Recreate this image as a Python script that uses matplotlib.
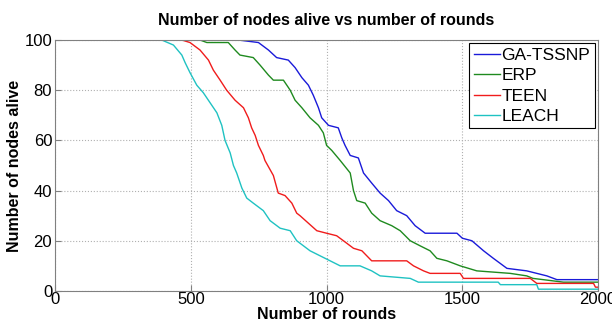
import matplotlib.pyplot as plt

plt.rcParams['font.family'] = ['Liberation Sans', 'DejaVu Sans']

# points (round, nodes alive)
ga_rounds = [0, 675, 749, 786, 816, 859, 884, 909, 933, 951, 970, 982, 1007, 1043, 1056,
             1068, 1087, 1117, 1136, 1166, 1197, 1228, 1258, 1295, 1326, 1363, 1480, 1500,
             1535, 1578, 1614, 1664, 1737, 1811, 1848, 2000]
ga_nodes = [100, 100, 99, 96, 93, 92, 89, 85, 82, 78, 73, 69, 66, 65, 61,
            58, 54, 53, 47, 43, 39, 36, 32, 30, 26, 23, 23, 21,
            20, 16, 13, 9, 8, 6, 4.5, 4.5]

erp_rounds = [0, 534, 559, 638, 663, 681, 730, 755, 786, 804, 841, 866, 884, 909, 939,
              970, 988, 1000, 1019, 1050, 1087, 1099, 1111, 1142, 1166, 1197, 1240, 1271,
              1308, 1344, 1381, 1406, 1443, 1492, 1553, 1676, 1737, 1760, 1872, 2000]
erp_nodes = [100, 100, 99, 99, 96, 94, 93, 90, 86, 84, 84, 80, 76, 73, 69,
             66, 63, 58, 56, 52, 47, 40, 36, 35, 31, 28, 26, 24,
             20, 18, 16, 13, 12, 10, 8, 7, 6, 5, 3.5, 3.5]

teen_rounds = [0, 467, 497, 534, 565, 583, 608, 632, 663, 694, 712, 724, 737, 749, 767,
               773, 804, 822, 847, 872, 890, 902, 933, 964, 1000, 1037, 1062, 1099, 1130,
               1166, 1295, 1320, 1357, 1381, 1492, 1504, 1750, 1774, 1983, 1990, 2000]
teen_nodes = [100, 100, 99, 96, 92, 88, 84, 80, 76, 73, 69, 65, 62, 58, 54,
              52, 46, 39, 38, 35, 31, 30, 27, 24, 23, 22, 20, 17, 16,
              12, 12, 10, 8, 7, 7, 5, 5, 3, 3, 1.5, 1.5]

leach_rounds = [0, 393, 436, 467, 479, 497, 522, 546, 571, 596, 614, 626, 645, 657, 669,
                688, 706, 730, 767, 792, 829, 866, 890, 939, 976, 1013, 1050, 1123, 1166,
                1197, 1308, 1338, 1632, 1640, 1774, 1780, 2000]
leach_nodes = [100, 100, 98, 94, 91, 87, 82, 79, 75, 71, 66, 60, 55, 50, 47,
               41, 37, 35, 32, 28, 25, 24, 20, 16, 14, 12, 10, 10, 8,
               6, 5, 3.5, 3.5, 2.5, 2.5, 0.7, 0.7]

fig = plt.figure(figsize=(6.12, 3.28), dpi=100)
ax = fig.add_axes([0.0899, 0.113, 0.8875, 0.765])

ax.plot(ga_rounds, ga_nodes, color='#1a1ad9', lw=1.0, label='GA-TSSNP')
ax.plot(erp_rounds, erp_nodes, color='#1f8a1f', lw=1.0, label='ERP')
ax.plot(teen_rounds, teen_nodes, color='#f01c1c', lw=1.0, label='TEEN')
ax.plot(leach_rounds, leach_nodes, color='#1fc2c2', lw=1.0, label='LEACH')

ax.set_xlim(0, 2000)
ax.set_ylim(0, 100)
ax.set_xticks([0, 500, 1000, 1500, 2000])
ax.set_yticks([0, 20, 40, 60, 80, 100])
ax.grid(True, linestyle=':', color='#b0b0b0', lw=0.8)
ax.tick_params(direction='in', labelsize=12, colors='#808080', labelcolor='black', length=4)
ax.tick_params(axis='x', pad=0.5)
ax.tick_params(axis='y', pad=2)
for s in ax.spines.values():
    s.set_color('#808080')

ax.set_title('Number of nodes alive vs number of rounds', fontsize=11.5, fontweight='bold', pad=11)
ax.set_xlabel('Number of rounds', fontsize=11.5, fontweight='bold', labelpad=0.5)
ax.set_ylabel('Number of nodes alive', fontsize=11.5, fontweight='bold', labelpad=2)

leg = ax.legend(loc='upper right', fontsize=12.5, handlelength=1.5, handletextpad=0.1,
                fancybox=False, framealpha=1, borderpad=0.25, labelspacing=0.3,
                borderaxespad=0.2)
leg.get_frame().set_edgecolor('black')
leg.get_frame().set_linewidth(0.8)

fig.savefig('out.png', dpi=100)
